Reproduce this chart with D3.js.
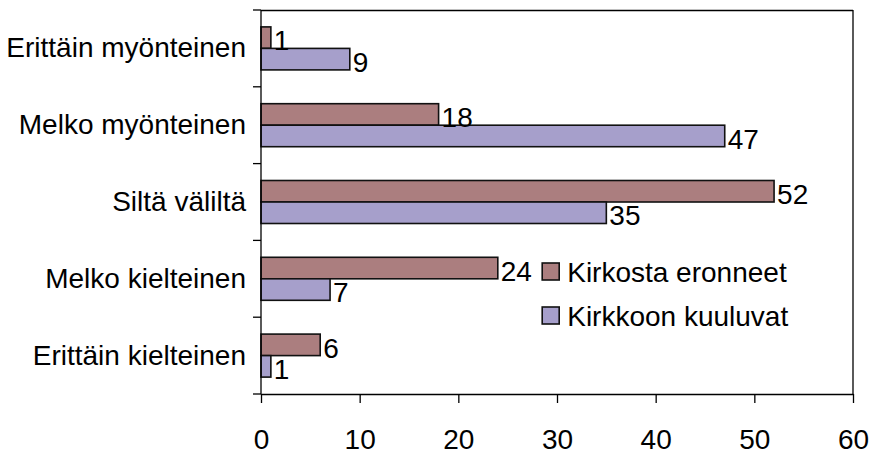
<!DOCTYPE html>
<html>
<head>
<meta charset="utf-8">
<script src="https://cdn.jsdelivr.net/npm/d3@7"></script>
<style>
  body { margin: 0; background: #fff; }
  text { font-family: "Liberation Sans", Arial, sans-serif; fill: #000; }
</style>
</head>
<body>
<div id="chart"></div>
<script>
// categories, top to bottom
var categories = ["Erittäin myönteinen", "Melko myönteinen", "Siltä väliltä", "Melko kielteinen", "Erittäin kielteinen"];
var seriesNames = ["Kirkosta eronneet", "Kirkkoon kuuluvat"];
var eronneet = [1, 18, 52, 24, 6];
var kuuluvat = [9, 47, 35, 7, 1];
var xTicks = [0, 10, 20, 30, 40, 50, 60];
var colors = ["#ab7e7f", "#a69fcb"];

var margin = {top: 10, right: 19, bottom: 61, left: 261},
    w = 872 - margin.left - margin.right,
    h = 455 - margin.top - margin.bottom;

var fontSize = "28px";

var svg = d3.select("#chart").append("svg")
    .attr("width", w + margin.left + margin.right)
    .attr("height", h + margin.top + margin.bottom)
  .append("g")
    .attr("transform", "translate(" + margin.left + "," + margin.top + ")");

var x = d3.scaleLinear().domain([0, 60]).range([0, w]);
var y = d3.scaleBand().domain(categories).range([0, h]).paddingInner(0.44).paddingOuter(0.22);
var y1 = d3.scaleBand().domain(seriesNames).range([0, y.bandwidth()]);

// plot frame (top and right)
svg.append("line").attr("x1", 0).attr("x2", w).attr("y1", 0.5).attr("y2", 0.5)
   .attr("stroke", "#000").attr("stroke-width", 1.3);
svg.append("line").attr("x1", w).attr("x2", w).attr("y1", 0).attr("y2", h)
   .attr("stroke", "#000").attr("stroke-width", 1.3);

var data = categories.map(function(c, i) {
  return {cat: c, values: [eronneet[i], kuuluvat[i]]};
});

var groups = svg.selectAll(".grp")
    .data(data)
  .enter().append("g")
    .attr("class", "grp")
    .attr("transform", function(d) { return "translate(0," + y(d.cat) + ")"; });

groups.selectAll("rect")
    .data(function(d) { return d.values.map(function(v, k) { return {name: seriesNames[k], v: v, k: k}; }); })
  .enter().append("rect")
    .attr("x", x(0))
    .attr("y", function(d) { return y1(d.name); })
    .attr("width", function(d) { return x(d.v) - x(0); })
    .attr("height", y1.bandwidth())
    .attr("fill", function(d) { return colors[d.k]; })
    .attr("stroke", "#111")
    .attr("stroke-width", 1.6);

groups.selectAll(".val")
    .data(function(d) { return d.values.map(function(v, k) { return {name: seriesNames[k], v: v}; }); })
  .enter().append("text")
    .attr("class", "val")
    .attr("x", function(d) { return x(d.v) + 3; })
    .attr("y", function(d) { return y1(d.name) + y1.bandwidth() + 2; })
    .attr("font-size", fontSize)
    .text(function(d) { return d.v; });

// y axis with ticks at band boundaries
var yAxis = svg.append("g");
yAxis.append("line").attr("x1", 0).attr("x2", 0).attr("y1", 0).attr("y2", h)
     .attr("stroke", "#000").attr("stroke-width", 1.3);
var step = h / categories.length;
yAxis.selectAll(".ytick")
    .data(d3.range(categories.length + 1))
  .enter().append("line")
    .attr("x1", -8).attr("x2", 0)
    .attr("y1", function(i) { return i * step; })
    .attr("y2", function(i) { return i * step; })
    .attr("stroke", "#000").attr("stroke-width", 1.3);
yAxis.selectAll(".ylab")
    .data(categories)
  .enter().append("text")
    .attr("text-anchor", "end")
    .attr("x", -15)
    .attr("y", function(d) { return y(d) + y.bandwidth() / 2 + 9; })
    .attr("font-size", fontSize)
    .text(function(d) { return d; });

// x axis
var xAxis = svg.append("g")
    .attr("transform", "translate(0," + h + ")")
    .call(d3.axisBottom(x).tickValues(xTicks).tickSize(9).tickPadding(26).tickSizeOuter(0));
xAxis.select(".domain").attr("stroke-width", 1.3);
xAxis.selectAll(".tick line").attr("stroke-width", 1.3);
xAxis.selectAll(".tick text")
    .attr("font-family", "Liberation Sans, Arial, sans-serif")
    .attr("font-size", fontSize)
    .attr("fill", "#000");

// legend
var legend = svg.append("g").attr("transform", "translate(" + (x(28.5)) + "," + 253 + ")");
seriesNames.forEach(function(s, k) {
  var row = legend.append("g").attr("transform", "translate(0," + (k * 44) + ")");
  row.append("rect").attr("x", 0).attr("y", 0).attr("width", 17).attr("height", 17)
     .attr("fill", colors[k]).attr("stroke", "#111").attr("stroke-width", 1.6);
  row.append("text").attr("x", 25).attr("y", 19).attr("font-size", fontSize).text(s);
});
</script>
</body>
</html>
